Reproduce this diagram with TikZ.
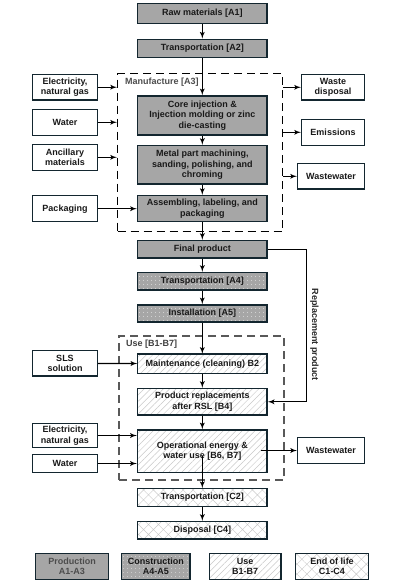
\documentclass[tikz,border=0pt]{standalone}
\usepackage{fontspec}
\setmainfont{Liberation Sans}
\usetikzlibrary{arrows}
\usetikzlibrary{patterns.meta}
\usetikzlibrary{positioning}
\definecolor{boxline}{HTML}{13262F}
\definecolor{prodgray}{HTML}{A6A6A6}
\definecolor{hatchgray}{HTML}{C8C8C8}
\tikzset{box/.style = {draw=boxline, line width=1.5pt, align=center, inner sep=1pt,
                       text=black!90, font=\bfseries\fontsize{9}{10.5}\selectfont}}
\tikzset{prod/.style = {box, fill=prodgray}}
\tikzset{cons/.style = {box, preaction={fill=prodgray},
                        pattern={Dots[distance=4pt, radius=0.45pt]}, pattern color=white}}
\tikzset{usephase/.style = {box, pattern={Lines[angle=45, distance=4.5pt, line width=0.5pt]},
                            pattern color=hatchgray}}
\tikzset{eol/.style = {box, pattern={Hatch[angle=45, distance=7pt, line width=0.4pt]},
                       pattern color=hatchgray}}
\tikzset{flow/.style = {->, line width=1.3pt}}
\tikzset{stage/.style = {draw, dashed, line width=1.5pt, dash pattern=on 8pt off 5pt,
                         minimum width=165, minimum height=158}}

\begin{document}
\begin{tikzpicture}[x=1pt, y=-1pt, >={latex'[scale=1.35]}]
      \useasboundingbox (0, 0) rectangle (404, 584);

      % dashed stages
      \node [stage, minimum width=165, minimum height=158] (manuf) at (200.2, 152.7) {};
      \node [anchor=north west, text=black!70, font=\bfseries\fontsize{9}{10}\selectfont,
             inner sep=0] (manuflabel) at (125, 78) {Manufacture [A3]};
      \node [stage, draw=black!65, minimum width=165, minimum height=144] (use) at (201.5, 408) {};
      \node [anchor=north west, text=black!75, font=\bfseries\fontsize{9}{10}\selectfont,
             inner sep=0] (uselabel) at (126, 340) {Use [B1-B7]};

      % main column
      \node [prod, minimum width=129.5, minimum height=20] (raw) at (202.3, 13.3) {Raw materials [A1]};
      \node [prod, minimum width=129.5, minimum height=18] (transA2) at (202.3, 48.3) {Transportation [A2]};
      \node [prod, minimum width=129.5, minimum height=39] (core) at (202.3, 115.5)
            {Core injection \&\\Injection molding or zinc\\die-casting};
      \node [prod, minimum width=129.5, minimum height=38.3] (metal) at (202.3, 164.8)
            {Metal part machining,\\sanding, polishing, and\\chroming};
      \node [prod, minimum width=129.5, minimum height=26] (assem) at (202.3, 208.7)
            {Assembling, labeling, and\\packaging};
      \node [prod, minimum width=129.5, minimum height=17.3] (final) at (202.3, 249.3) {Final product};
      \node [cons, minimum width=129.5, minimum height=17.3] (transA4) at (202.3, 281.3) {Transportation [A4]};
      \node [cons, minimum width=129.5, minimum height=17] (install) at (202.3, 313.5) {Installation [A5]};
      \node [usephase, minimum width=129.5, minimum height=19.3] (maint) at (202.3, 363.7)
            {Maintenance (cleaning) B2};
      \node [usephase, minimum width=129.5, minimum height=26.3] (repl) at (202.3, 401.8)
            {Product replacements\\after RSL [B4]};
      \node [usephase, minimum width=129.5, minimum height=42.3] (oper) at (202.3, 451.2)
            {Operational energy \&\\water use [B6, B7]};
      \node [eol, minimum width=129.5, minimum height=18.4] (transC2) at (202.3, 497.5) {Transportation [C2]};
      \node [eol, minimum width=129.5, minimum height=17.3] (disp) at (202.3, 530.3) {Disposal [C4]};

      % inputs
      \node [box, minimum width=64.6, minimum height=25.7] (elecA) at (65, 87.2) {Electricity,\\natural gas};
      \node [box, minimum width=64.6, minimum height=26] (waterA) at (65, 122.3) {Water};
      \node [box, minimum width=64.6, minimum height=26] (ancil) at (65, 157.3) {Ancillary\\materials};
      \node [box, minimum width=64.6, minimum height=26] (pack) at (65, 208.7) {Packaging};
      \node [box, minimum width=64.6, minimum height=25.3] (sls) at (65, 363.3) {SLS\\solution};
      \node [box, minimum width=64.6, minimum height=24.4] (elecB) at (65, 435.5) {Electricity,\\natural gas};
      \node [box, minimum width=64.6, minimum height=18.4] (waterB) at (65, 463.5) {Water};

      % outputs
      \node [box, minimum width=62.6, minimum height=25.3] (waste) at (333, 87.3) {Waste\\disposal};
      \node [box, minimum width=62.6, minimum height=26] (emis) at (333, 132.3) {Emissions};
      \node [box, minimum width=66.6, minimum height=25.3] (wwA) at (331, 176.3) {Wastewater};
      \node [box, minimum width=66.6, minimum height=25.6] (wwB) at (331, 450.5) {Wastewater};

      % legend
      \node [prod, minimum width=72.6, minimum height=26, text=black!70] (legprod) at (72, 566.3) {Production\\A1-A3};
      \node [cons, minimum width=68.3, minimum height=26] (legcons) at (155.8, 566.3) {Construction\\A4-A5};
      \node [usephase, minimum width=71.7, minimum height=26] (leguse) at (245.2, 566.3) {Use\\B1-B7};
      \node [eol, minimum width=72.6, minimum height=26] (legeol) at (332, 566.3) {End of life\\C1-C4};

      % main flow
      \draw [flow] (raw) -- (transA2);
      \draw [flow] (transA2) -- (core);
      \draw [flow] (core) -- (metal);
      \draw [flow] (metal) -- (assem);
      \draw [flow] (assem) -- (final);
      \draw [flow] (final) -- (transA4);
      \draw [flow] (transA4) -- (install);
      \draw [flow] (install) -- (maint);
      \draw [flow] (maint) -- (repl);
      \draw [flow] (repl) -- (oper);
      \draw [flow] ([yshift=-5pt]oper.center) -- (transC2.north);
      \draw [flow] (transC2) -- (disp);

      % inputs and outputs
      \draw [flow] (elecA.east) -- (elecA.east -| manuf.west);
      \draw [flow] (waterA.east) -- (waterA.east -| manuf.west);
      \draw [flow] (ancil.east) -- (ancil.east -| manuf.west);
      \draw [flow] (pack) -- (assem);
      \draw [flow] (waste.west -| manuf.east) -- (waste.west);
      \draw [flow] (emis.west -| manuf.east) -- (emis.west);
      \draw [flow] (wwA.west -| manuf.east) -- (wwA.west);
      \draw [flow] (sls) -- (maint);
      \draw [flow] (elecB.east) -- (elecB.east -| oper.west);
      \draw [flow] (waterB.east) -- (waterB.east -| oper.west);
      \draw [flow] ([xshift=-7pt]oper.east |- wwB.west) -- (wwB.west);

      % replacement loop
      \draw [flow] (final.east) -- ++(38.5, 0) |- node [pos=0.28, rotate=-90, anchor=south,
            font=\bfseries\fontsize{9}{10}\selectfont, text=black!85] {Replacement product} (repl.east);
\end{tikzpicture}
\end{document}
